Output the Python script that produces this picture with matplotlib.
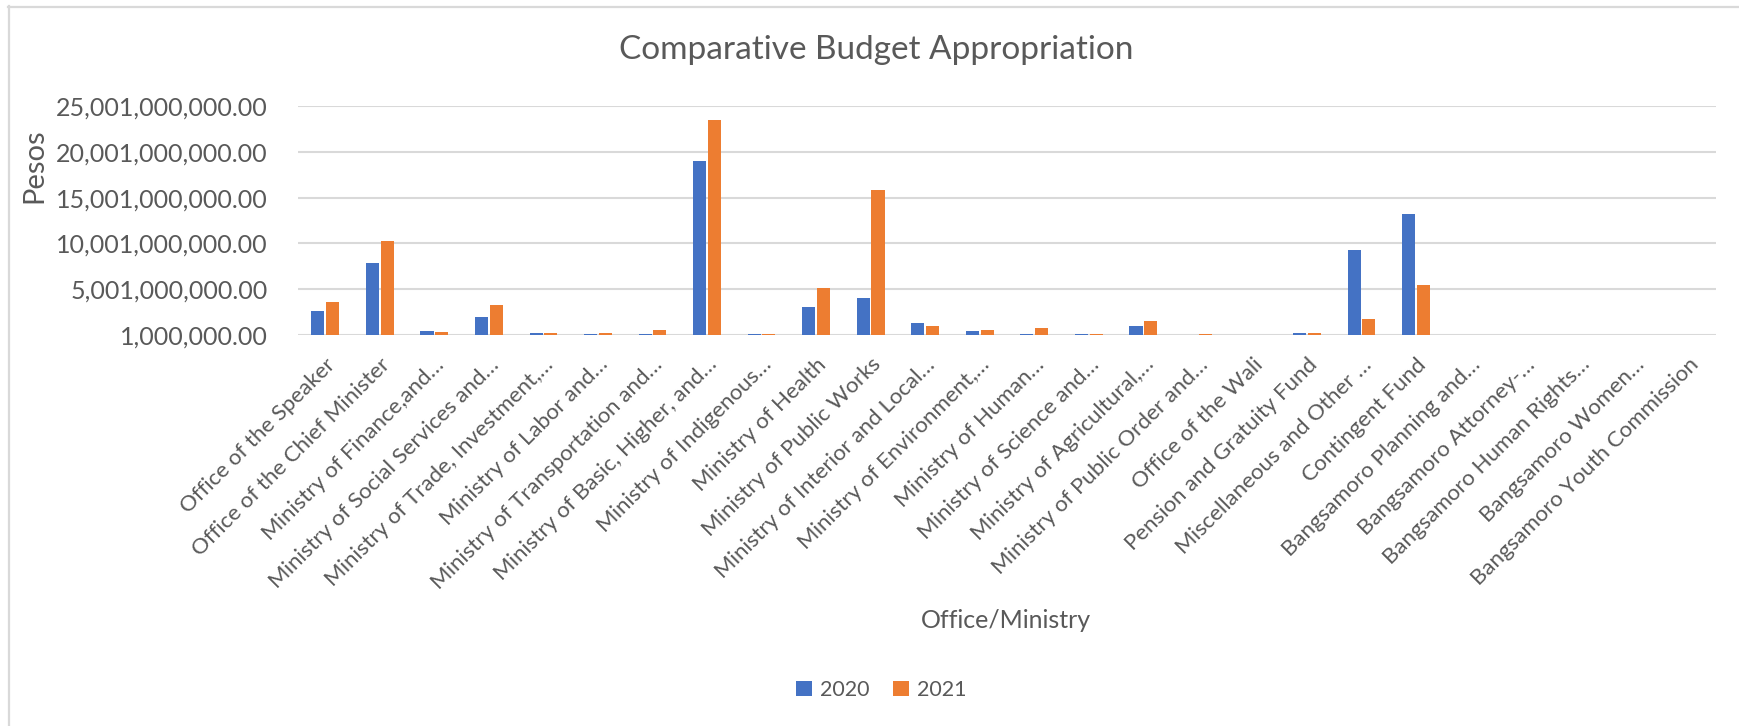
import numpy as np
import matplotlib
matplotlib.use("Agg")
import matplotlib.pyplot as plt
from matplotlib.ticker import FuncFormatter
from matplotlib.lines import Line2D

plt.rcParams['font.family'] = ['Lato', 'DejaVu Sans']

# categories (labels as truncated in the original chart)
offices = [
    "Office of the Speaker",
    "Office of the Chief Minister",
    "Ministry of Finance,and…",
    "Ministry of Social Services and…",
    "Ministry of Trade, Investment,…",
    "Ministry of Labor and…",
    "Ministry of Transportation and…",
    "Ministry of Basic, Higher, and…",
    "Ministry of Indigenous…",
    "Ministry of Health",
    "Ministry of Public Works",
    "Ministry of Interior and Local…",
    "Ministry of Environment,…",
    "Ministry of Human…",
    "Ministry of Science and…",
    "Ministry of Agricultural,…",
    "Ministry of Public Order and…",
    "Office of the Wali",
    "Pension and Gratuity Fund",
    "Miscellaneous and Other …",
    "Contingent Fund",
    "Bangsamoro Planning and…",
    "Bangsamoro Attorney-…",
    "Bangsamoro Human Rights…",
    "Bangsamoro Women…",
    "Bangsamoro Youth Commission",
]

# values in billions of pesos
budget_2020 = [2.58, 7.87, 0.47, 2.00, 0.25, 0.15, 0.15, 19.05, 0.15, 3.01,
               4.06, 1.34, 0.47, 0.15, 0.15, 1.02, 0.02, 0.03, 0.25, 9.29,
               13.21, 0.0, 0.0, 0.0, 0.0, 0.0]
budget_2021 = [3.63, 10.27, 0.36, 3.30, 0.25, 0.25, 0.58, 23.44, 0.15, 5.15,
               15.82, 1.02, 0.58, 0.80, 0.15, 1.56, 0.10, 0.03, 0.25, 1.78,
               5.41, 0.05, 0.03, 0.05, 0.04, 0.04]

y_ticks = [1e6 + k * 5e9 for k in range(6)]

blue = "#4472C4"
orange = "#ED7D31"
grey_txt = "#595959"
grid_c = "#D9D9D9"

W, H = 1739, 726
fig = plt.figure(figsize=(W / 100, H / 100), dpi=100)
ax = fig.add_axes([298 / W, 1 - 335 / H, (1716 - 298) / W, (335 - 106) / H])

x = np.arange(len(offices))
v20 = np.array(budget_2020) * 1e9
v21 = np.array(budget_2021) * 1e9
bw = 0.24
ax.bar(x - 0.135, v20, bw, color=blue, label="2020", zorder=3)
ax.bar(x + 0.135, v21, bw, color=orange, label="2021", zorder=3)

ax.set_xlim(-0.5, len(offices) - 0.5)
ax.set_ylim(1e6, 25.001e9)
ax.set_yticks(y_ticks)
ax.yaxis.set_major_formatter(FuncFormatter(lambda v, p: "{:,.2f}".format(v)))
ax.yaxis.grid(True, color=grid_c, lw=1.5, zorder=0)
ax.set_axisbelow(True)
for s in ax.spines.values():
    s.set_visible(False)
ax.tick_params(axis='both', length=0, colors=grey_txt)
ax.tick_params(axis='y', labelsize=18, pad=22)

ax.set_xticks(x)
ax.set_xticklabels(offices, rotation=45, ha='right', rotation_mode='anchor',
                   fontsize=16, color=grey_txt)
ax.tick_params(axis='x', pad=14)

fig.text(876 / W, 1 - 50 / H, "Comparative Budget Appropriation",
         ha='center', va='center', fontsize=24, color=grey_txt)
fig.text(34 / W, 1 - 166 / H, "Pesos", rotation=90, ha='center', va='center',
         fontsize=21, color=grey_txt)
fig.text(1006 / W, 1 - 621 / H, "Office/Ministry", ha='center', va='center',
         fontsize=18, color=grey_txt)

leg = fig.legend(loc='center', bbox_to_anchor=(881 / W, 1 - 690 / H), ncol=2,
                 frameon=False, fontsize=15.5, handlelength=0.75, handleheight=0.75,
                 columnspacing=1.1, handletextpad=0.35)
for t in leg.get_texts():
    t.set_color(grey_txt)

# chart area border (top and left visible)
fig.add_artist(Line2D([8 / W, 1], [1 - 6.5 / H, 1 - 6.5 / H], color=grid_c, lw=1.6))
fig.add_artist(Line2D([8.5 / W, 8.5 / W], [0, 1 - 6 / H], color=grid_c, lw=1.6))

fig.savefig("out.png", dpi=100, facecolor="white")
